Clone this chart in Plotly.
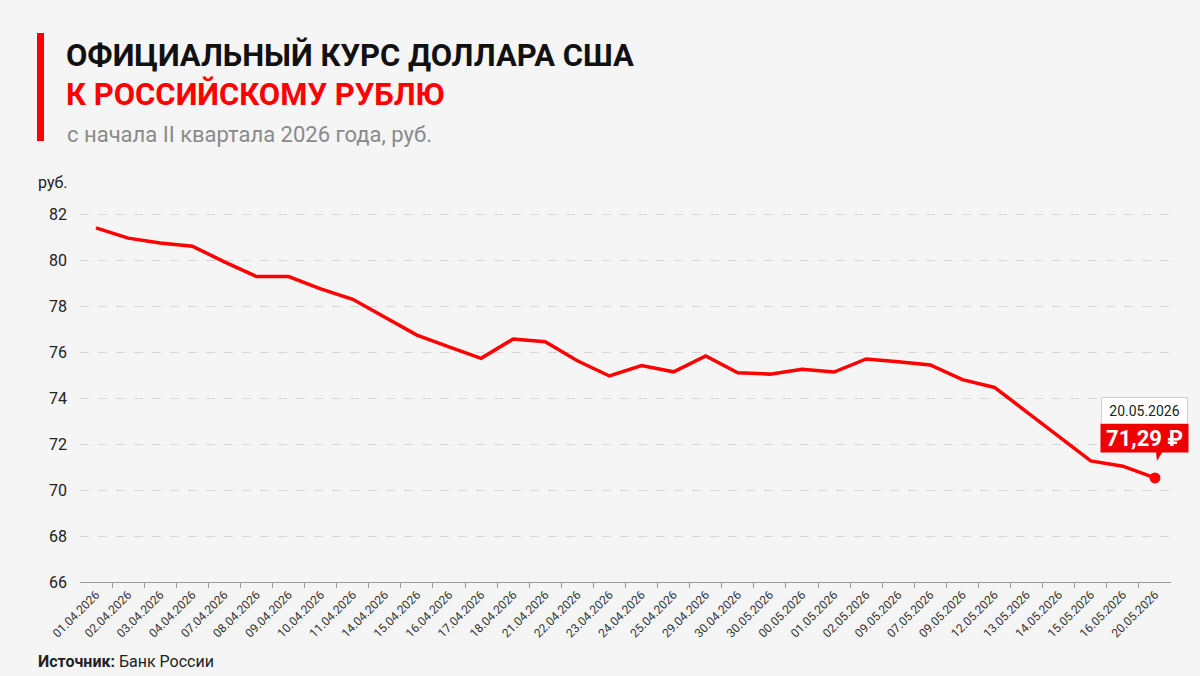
import plotly.graph_objects as go

# ---------------- data ----------------
dates = ["01.04.2026", "02.04.2026", "03.04.2026", "04.04.2026", "07.04.2026", "08.04.2026",
         "09.04.2026", "10.04.2026", "11.04.2026", "14.04.2026", "15.04.2026", "16.04.2026",
         "17.04.2026", "18.04.2026", "21.04.2026", "22.04.2026", "23.04.2026", "24.04.2026",
         "25.04.2026", "29.04.2026", "30.04.2026", "30.05.2026", "00.05.2026", "01.05.2026",
         "02.05.2026", "09.05.2026", "07.05.2026", "09.05.2026", "12.05.2026", "13.05.2026",
         "14.05.2026", "15.05.2026", "16.05.2026", "20.05.2026"]
rate = [81.42, 80.97, 80.76, 80.62, 79.94, 79.30,
        79.30, 78.76, 78.31, 77.53, 76.75, 76.24,
        75.74, 76.58, 76.46, 75.63, 74.97, 75.42,
        75.15, 75.84, 75.11, 75.05, 75.26, 75.14,
        75.71, 75.59, 75.45, 74.81, 74.47, 73.41,
        72.34, 71.27, 71.04, 70.53]
y_ticks = [66, 68, 70, 72, 74, 76, 78, 80, 82]
last_date_label = "20.05.2026"
last_value_label = "71,29 ₽"

# ---------------- layout helpers ----------------
W, H = 1200, 676
L, R, T, B = 80, 29, 203, 94
PW, PH = W - L - R, H - T - B
RED = "#ff0000"
BG = "#f5f5f5"
FONT = "Roboto"


def px(x):
    return (x - L) / PW


def py(y):
    return (H - B - y) / PH


idx = list(range(len(dates)))

fig = go.Figure()
fig.add_trace(go.Scatter(
    x=idx, y=rate, mode="lines",
    line=dict(color=RED, width=3.5),
    hoverinfo="skip", showlegend=False,
))
fig.add_trace(go.Scatter(
    x=[idx[-1]], y=[rate[-1]], mode="markers",
    marker=dict(color=RED, size=11),
    hoverinfo="skip", showlegend=False,
))
# helper trace for boundary tick marks axis
fig.add_trace(go.Scatter(
    x=[idx[0], idx[-1]], y=[rate[0], rate[-1]], xaxis="x2", mode="markers",
    marker=dict(opacity=0), hoverinfo="skip", showlegend=False,
))

fig.update_layout(
    width=W, height=H,
    margin=dict(l=L, r=R, t=T, b=B),
    paper_bgcolor=BG, plot_bgcolor=BG,
    font=dict(family=FONT, color="#222"),
    xaxis=dict(
        range=[-0.5, len(dates) - 0.5],
        tickmode="array", tickvals=idx, ticktext=dates,
        tickangle=-45, tickfont=dict(size=12, color="#333"),
        ticks="", showgrid=False, zeroline=False,
        showline=True, linecolor="#9a9a9a", linewidth=1,
    ),
    xaxis2=dict(
        overlaying="x", anchor="y", side="bottom",
        range=[-0.5, len(dates) - 0.5],
        tickmode="array", tickvals=[i + 0.5 for i in idx[:-1]],
        showticklabels=False, ticks="outside", ticklen=5, tickcolor="#9a9a9a",
        showgrid=False, zeroline=False, showline=False,
    ),
    yaxis=dict(
        range=[66, 82.5],
        tickmode="array", tickvals=y_ticks, ticktext=[str(v) for v in y_ticks],
        tickfont=dict(size=16, color="#222"),
        ticks="", ticklabelstandoff=12,
        showgrid=True, gridcolor="#d6d6d6", gridwidth=1, griddash="dash",
        zeroline=False, showline=False,
    ),
)

# red vertical bar by the title
fig.add_shape(type="rect", xref="paper", yref="paper",
              x0=px(37), x1=px(44), y0=py(141), y1=py(33),
              fillcolor=RED, line=dict(width=0))

ann = []
ann.append(dict(text="<b>ОФИЦИАЛЬНЫЙ КУРС ДОЛЛАРА США</b>", x=px(64), y=py(55),
                font=dict(size=31, color="#111", family=FONT)))
ann.append(dict(text="<b>К РОССИЙСКОМУ РУБЛЮ</b>", x=px(64), y=py(94),
                font=dict(size=31, color=RED, family=FONT)))
ann.append(dict(text="с начала II квартала 2026 года, руб.", x=px(65), y=py(134),
                font=dict(size=22, color="#8a8a8a", family=FONT)))
ann.append(dict(text="руб.", x=px(36), y=py(183),
                font=dict(size=16, color="#222", family=FONT)))
ann.append(dict(text="<b>Источник:</b> Банк России", x=px(36), y=py(661),
                font=dict(size=16, color="#222", family=FONT)))
for a in ann:
    a.update(xref="paper", yref="paper", xanchor="left", yanchor="middle",
             showarrow=False)
    fig.add_annotation(**a)

# callout on the last point
fig.add_annotation(
    x=idx[-1], y=rate[-1], xref="x", yref="y", showarrow=False,
    text=f"<b>{last_value_label}</b>", font=dict(size=22, color="white", family=FONT),
    bgcolor="#ee0000", borderpad=0, width=87, height=28,
    xshift=-10, yshift=40,
)
fig.add_annotation(
    x=idx[-1], y=rate[-1], xref="x", yref="y", showarrow=False,
    text=last_date_label, font=dict(size=14, color="#222", family=FONT),
    bgcolor="white", bordercolor="#d0d0d0", borderwidth=1, borderpad=0,
    width=85, height=25,
    xshift=-10, yshift=67,
)
# tail of the callout (pixel-sized, anchored on the last point)
fig.add_shape(type="path", xref="x", yref="y",
              xsizemode="pixel", ysizemode="pixel",
              xanchor=idx[-1], yanchor=rate[-1],
              path="M 1,27 L 8,27 L 2,17 Z",
              fillcolor="#ee0000", line=dict(width=0))

fig.write_html("out.html")
